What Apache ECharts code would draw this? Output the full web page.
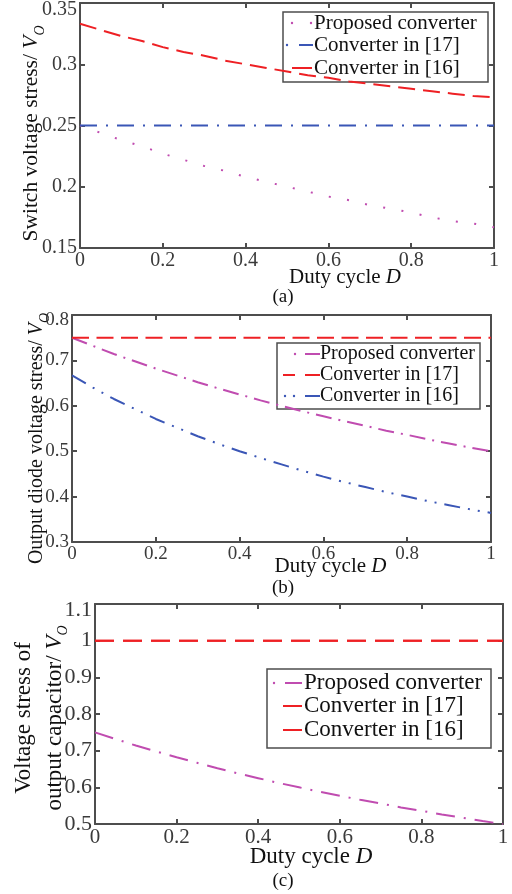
<!DOCTYPE html>
<html>
<head>
<meta charset="utf-8">
<script src="https://cdn.jsdelivr.net/npm/echarts@6/dist/echarts.min.js"></script>
<style>
  html, body { margin: 0; padding: 0; background: #ffffff; }
  #chart { width: 512px; height: 894px; }
</style>
</head>
<body>
<div id="chart"></div>
<script>
// Duty cycle samples shared by all three panels
const duty = [0, 0.05, 0.1, 0.15, 0.2, 0.25, 0.3, 0.35, 0.4, 0.45, 0.5,
              0.55, 0.6, 0.65, 0.7, 0.75, 0.8, 0.85, 0.9, 0.95, 1];

// (a) switch voltage stress / Vo
const switchProposed = [0.250, 0.244, 0.238, 0.233, 0.227, 0.222, 0.217, 0.213, 0.208, 0.204, 0.200,
                        0.196, 0.192, 0.189, 0.185, 0.182, 0.179, 0.175, 0.172, 0.170, 0.167];
const switchRef17 = [0.25, 0.25, 0.25, 0.25, 0.25, 0.25, 0.25, 0.25, 0.25, 0.25, 0.25,
                     0.25, 0.25, 0.25, 0.25, 0.25, 0.25, 0.25, 0.25, 0.25, 0.25];
const switchRef16 = [0.333, 0.328, 0.323, 0.319, 0.314, 0.310, 0.307, 0.303, 0.300, 0.297, 0.294,
                     0.291, 0.289, 0.286, 0.284, 0.282, 0.280, 0.278, 0.276, 0.274, 0.273];

// (b) output diode voltage stress / Vo
const diodeProposed = [0.750, 0.732, 0.714, 0.698, 0.682, 0.667, 0.652, 0.638, 0.625, 0.612, 0.600,
                       0.588, 0.577, 0.566, 0.556, 0.545, 0.536, 0.526, 0.517, 0.508, 0.500];
const diodeRef17 = [0.75, 0.75, 0.75, 0.75, 0.75, 0.75, 0.75, 0.75, 0.75, 0.75, 0.75,
                    0.75, 0.75, 0.75, 0.75, 0.75, 0.75, 0.75, 0.75, 0.75, 0.75];
const diodeRef16 = [0.667, 0.640, 0.615, 0.593, 0.571, 0.552, 0.533, 0.516, 0.500, 0.485, 0.471,
                    0.457, 0.444, 0.432, 0.421, 0.410, 0.400, 0.390, 0.381, 0.372, 0.364];

// (c) output capacitor voltage stress / Vo
const capProposed = [0.750, 0.732, 0.714, 0.698, 0.682, 0.667, 0.652, 0.638, 0.625, 0.612, 0.600,
                     0.588, 0.577, 0.566, 0.556, 0.545, 0.536, 0.526, 0.517, 0.508, 0.500];
const capRef17 = [1, 1, 1, 1, 1, 1, 1, 1, 1, 1, 1, 1, 1, 1, 1, 1, 1, 1, 1, 1, 1];
const capRef16 = [1, 1, 1, 1, 1, 1, 1, 1, 1, 1, 1, 1, 1, 1, 1, 1, 1, 1, 1, 1, 1];

// Axis ranges and tick spacing
const xRange = { min: 0, max: 1, interval: 0.2 };
const yRangeA = { min: 0.15, max: 0.35, interval: 0.05 };
const yRangeB = { min: 0.3, max: 0.8, interval: 0.1 };
const yRangeC = { min: 0.5, max: 1.1, interval: 0.1 };

const legendNames = ['Proposed converter', 'Converter in [17]', 'Converter in [16]'];

const FONT = "'Liberation Serif', 'Times New Roman', serif";
const FRAME = '#4d4d4d';
const LABEL = '#3a3a3a';
const RED = '#ee2024';
const BLUE = '#3a56b6';
const MAGENTA = '#c04cb0';

function pairs(ys) { return duty.map((d, i) => [d, ys[i]]); }
function fmt(v) { return String(parseFloat(v.toFixed(3))); }

function xAxes(grid, fontSize, nameSize, nameGap, nameShift) {
  const line = { lineStyle: { color: FRAME, width: 2 } };
  const tick = { inside: true, length: 5, lineStyle: { color: FRAME, width: 2 } };
  return [
    Object.assign({}, xRange, {
      type: 'value', gridIndex: grid, position: 'bottom',
      axisLine: Object.assign({ onZero: false }, line), axisTick: tick,
      splitLine: { show: false },
      axisLabel: { margin: 3, color: LABEL, fontSize: fontSize, fontFamily: FONT, formatter: fmt },
      name: 'Duty cycle {i|D}', nameLocation: 'middle', nameGap: nameGap, nameMoveOverlap: false,
      nameTextStyle: {
        color: '#111', fontSize: nameSize, fontFamily: FONT, padding: [0, 0, 0, nameShift],
        rich: { i: { fontStyle: 'italic', fontSize: nameSize, fontFamily: FONT, color: '#111' } }
      }
    }),
    Object.assign({}, xRange, {
      type: 'value', gridIndex: grid, position: 'top',
      axisLine: Object.assign({ onZero: false }, line), axisTick: tick,
      splitLine: { show: false }, axisLabel: { show: false }
    })
  ];
}

function yAxes(grid, range, fontSize, topPad, name, nameGap, nameShift, nameSize) {
  const line = { lineStyle: { color: FRAME, width: 2 } };
  const tick = { inside: true, length: 5, lineStyle: { color: FRAME, width: 2 } };
  const top = range.max;
  return [
    Object.assign({}, range, {
      type: 'value', gridIndex: grid, position: 'left',
      axisLine: Object.assign({ onZero: false }, line), axisTick: tick,
      splitLine: { show: false },
      axisLabel: {
        margin: 3, color: LABEL, fontSize: fontSize, fontFamily: FONT,
        formatter: v => Math.abs(v - top) < 1e-9 ? '{t|' + fmt(v) + '}' : fmt(v),
        rich: { t: { padding: [topPad, 0, 0, 0], color: LABEL, fontSize: fontSize, fontFamily: FONT } }
      },
      name: name, nameLocation: 'middle', nameGap: nameGap, nameRotate: 90, nameMoveOverlap: false,
      nameTextStyle: {
        color: '#111', fontSize: nameSize, fontFamily: FONT, lineHeight: 31,
        padding: [0, nameShift, 0, 0],
        rich: {
          v: { fontStyle: 'italic', fontSize: nameSize, fontFamily: FONT, color: '#111' },
          o: { fontStyle: 'italic', fontSize: 14, fontFamily: FONT, color: '#111', verticalAlign: 'bottom', lineHeight: 22 }
        }
      }
    }),
    Object.assign({}, range, {
      type: 'value', gridIndex: grid, position: 'right',
      axisLine: Object.assign({ onZero: false }, line), axisTick: tick,
      splitLine: { show: false }, axisLabel: { show: false }
    })
  ];
}

function curve(name, ys, xi, color, dash) {
  return {
    name: name, type: 'line', xAxisIndex: xi, yAxisIndex: xi,
    data: pairs(ys), showSymbol: false, symbol: 'none', smooth: false,
    lineStyle: { color: color, width: 2, type: dash }, silent: true
  };
}

// Legend boxes drawn as graphics: frame, line samples, labels
function legendBox(x, y, w, h, textX, rows, fontSize, icons) {
  const children = [{
    type: 'rect', shape: { x: x, y: y, width: w, height: h },
    style: { fill: 'none', stroke: FRAME, lineWidth: 1.5 }
  }];
  rows.forEach((ry, i) => {
    children.push({
      type: 'text', x: textX, y: ry,
      style: { text: legendNames[i], fill: '#111', font: fontSize + 'px ' + FONT, textVerticalAlign: 'middle' }
    });
  });
  icons.forEach(ic => {
    if (ic.dot) {
      children.push({ type: 'circle', shape: { cx: ic.dot[0], cy: ic.dot[1], r: 1.2 }, style: { fill: ic.color } });
    } else {
      children.push({ type: 'line', shape: { x1: ic.seg[0], y1: ic.seg[2], x2: ic.seg[1], y2: ic.seg[2] },
        style: { stroke: ic.color, lineWidth: 2 } });
    }
  });
  return { type: 'group', children: children };
}

function caption(text, y) {
  return { type: 'text', x: 283, y: y,
    style: { text: text, fill: '#111', font: '19px ' + FONT, textAlign: 'center', textVerticalAlign: 'middle' } };
}

const gridBase = { outerBoundsMode: 'none', containLabel: false };

const option = {
  animation: false,
  backgroundColor: '#ffffff',
  grid: [
    Object.assign({ left: 80, right: 18, top: 3, height: 245 }, gridBase),
    Object.assign({ left: 72, right: 21, top: 315, height: 227 }, gridBase),
    Object.assign({ left: 95, right: 9, top: 604, height: 220 }, gridBase)
  ],
  xAxis: [].concat(
    xAxes(0, 20, 21, 19, 116),
    xAxes(1, 19, 21, 14, 98),
    xAxes(2, 21, 23, 21, 24)
  ),
  yAxis: [].concat(
    yAxes(0, yRangeA, 20, 14, 'Switch voltage stress/ {v|V}{o|O}', 33, 16, 21.5),
    yAxes(1, yRangeB, 19, 10, 'Output diode voltage stress/ {v|V}{o|O}', 20, 20, 20),
    yAxes(2, yRangeC, 22, 12, 'Voltage stress of\noutput capacitor/ {v|V}{o|O}', 25, 8, 23)
  ),
  series: [
    curve('Proposed converter', switchProposed, 0, MAGENTA, [2, 16.5]),
    curve('Converter in [17]', switchRef17, 0, BLUE, [17, 9, 2, 9]),
    curve('Converter in [16]', switchRef16, 0, RED, [17, 8]),

    curve('Proposed converter', diodeProposed, 2, MAGENTA, [16, 7, 2, 7]),
    curve('Converter in [17]', diodeRef17, 2, RED, [17, 7.5]),
    curve('Converter in [16]', diodeRef16, 2, BLUE, [16, 8, 2, 8, 2, 8]),

    curve('Proposed converter', capProposed, 4, MAGENTA, [19, 9, 2, 9]),
    curve('Converter in [17]', capRef17, 4, RED, [19, 9]),
    curve('Converter in [16]', capRef16, 4, RED, [19, 9])
  ],
  graphic: [
    legendBox(283, 12, 205, 70, 314, [23, 45, 68], 21, [
      { dot: [292, 23], color: MAGENTA }, { dot: [311, 23], color: MAGENTA },
      { dot: [287, 45], color: BLUE }, { seg: [299, 313, 45], color: BLUE },
      { seg: [292, 312, 68], color: RED }
    ]),
    legendBox(277, 343, 203, 66, 320, [354, 375, 396], 20, [
      { dot: [295, 354], color: MAGENTA }, { seg: [305, 320, 354], color: MAGENTA },
      { seg: [283, 295, 375], color: RED }, { seg: [305, 320, 375], color: RED },
      { dot: [285, 396], color: BLUE }, { dot: [294, 396], color: BLUE }, { seg: [305, 320, 396], color: BLUE }
    ]),
    legendBox(267, 669, 224, 79, 304, [683, 706, 730], 23, [
      { dot: [274, 683], color: MAGENTA }, { seg: [285, 302, 683], color: MAGENTA },
      { seg: [283, 302, 706], color: RED },
      { seg: [283, 302, 730], color: RED }
    ]),
    caption('(a)', 297),
    caption('(b)', 588),
    caption('(c)', 881)
  ]
};

const chart = echarts.init(document.getElementById('chart'), null, { renderer: 'canvas' });
chart.setOption(option);
</script>
</body>
</html>
